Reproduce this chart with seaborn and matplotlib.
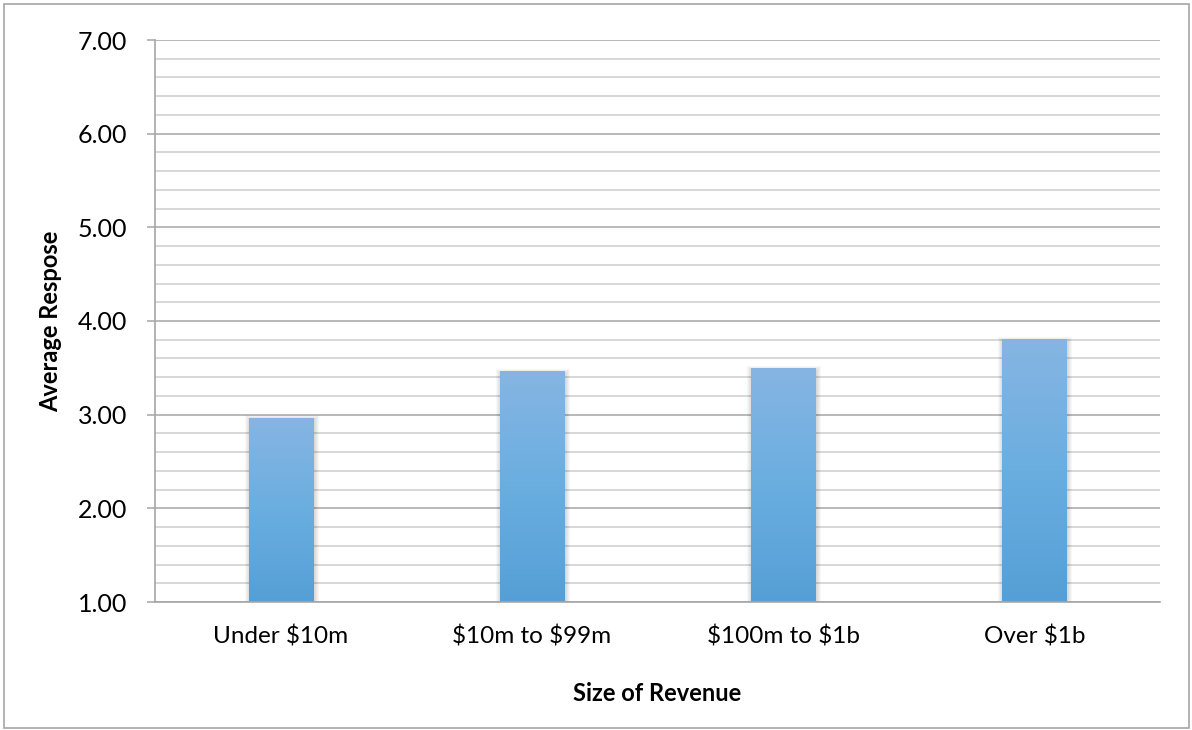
import numpy as np
import pandas as pd
import matplotlib
matplotlib.use("Agg")
import matplotlib.pyplot as plt
from matplotlib.patches import Rectangle
from matplotlib.colors import LinearSegmentedColormap
import seaborn as sns

categories = ["Under $10m", "$10m to $99m", "$100m to $1b", "Over $1b"]
values = [2.96, 3.46, 3.49, 3.80]
y_ticks = [1.0, 2.0, 3.0, 4.0, 5.0, 6.0, 7.0]
x_title = "Size of Revenue"
y_title = "Average Respose"

sns.set_theme(style="white")
plt.rcParams["font.family"] = ["Lato", "DejaVu Sans"]
plt.rcParams["text.parse_math"] = False

df = pd.DataFrame({"size": categories, "avg": values})

Y_MIN, Y_MAX = 1.0, 7.0

fig = plt.figure(figsize=(11.92, 7.30), dpi=100)
ax = fig.add_axes([155 / 1192, 128 / 730, 1005 / 1192, 562 / 730])

sns.barplot(data=df, x="size", y="avg", color="#5b9bd5", width=0.255,
            ax=ax, zorder=3, saturation=1, linewidth=0)

ax.set_ylim(Y_MIN, Y_MAX)
ax.set_xlim(-0.5, 3.5)

# minor and major grid
ax.set_yticks(y_ticks)
ax.set_yticklabels([f"{t:.2f}" for t in y_ticks])
ax.set_yticks(np.arange(Y_MIN, Y_MAX + 0.01, 0.2), minor=True)
ax.yaxis.grid(True, which="major", color="#a6a6a6", linewidth=1.1, zorder=0)
ax.yaxis.grid(True, which="minor", color="#d4d4d4", linewidth=1.3, zorder=0)
ax.set_axisbelow(True)

ax.tick_params(axis="y", which="major", length=6, width=1.1, color="#a6a6a6",
               pad=14, labelsize=18, labelcolor="black", left=True)
ax.tick_params(axis="y", which="minor", length=0)
ax.tick_params(axis="x", length=0, pad=17, labelsize=17.5, labelcolor="black")

for side in ["top", "right"]:
    ax.spines[side].set_visible(False)
for side in ["left", "bottom"]:
    ax.spines[side].set_color("#a6a6a6")
    ax.spines[side].set_linewidth(1.2)
    ax.spines[side].set_zorder(5)

ax.set_xlabel(x_title, fontsize=17, fontweight="bold", color="black")
ax.set_ylabel(y_title, fontsize=17, fontweight="bold", color="black")
ax.xaxis.set_label_coords(0.5, -0.142)
ax.yaxis.set_label_coords(-0.0925, 0.5)

# gradient fill and soft shadow for each bar
cmap = LinearSegmentedColormap.from_list("bar", ["#559fd6", "#6aaee0", "#86b5e3"])
grad = np.linspace(0, 1, 256).reshape(-1, 1)
px_x = 1005 / 4.0
px_y = 562 / (Y_MAX - Y_MIN)
for patch in list(ax.patches):
    x0, w = patch.get_x(), patch.get_width()
    top = patch.get_y() + patch.get_height()
    for d in range(1, 6):
        ax.add_patch(Rectangle((x0 - d / px_x + 1.0 / px_x, Y_MIN),
                               w + 2 * d / px_x, top - Y_MIN + (d - 2) / px_y,
                               facecolor="black", alpha=0.03,
                               linewidth=0, zorder=2))
    ax.imshow(grad, extent=(x0, x0 + w, Y_MIN, top), origin="lower",
              cmap=cmap, aspect="auto", zorder=4, interpolation="bicubic")

ax.set_xlim(-0.5, 3.5)
ax.set_ylim(Y_MIN, Y_MAX)

# chart border
fig.patches.append(Rectangle((4 / 1192, 2 / 730), 1185 / 1192, 724 / 730,
                             transform=fig.transFigure, fill=False,
                             edgecolor="#a6a6a6", linewidth=1.2))

fig.savefig("out.png", dpi=100, facecolor="white")
